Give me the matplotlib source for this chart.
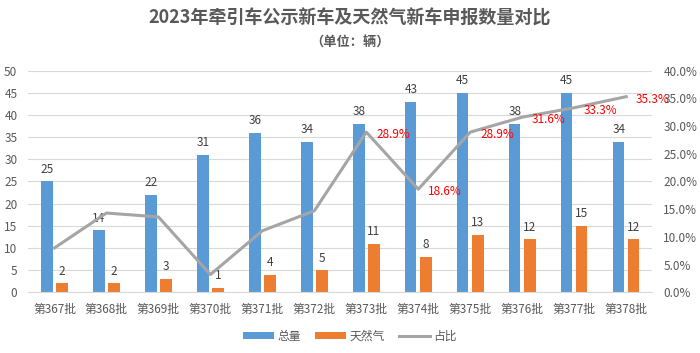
import matplotlib
matplotlib.use("Agg")
import matplotlib.pyplot as plt
import numpy as np

plt.rcParams['font.family'] = ['Noto Sans CJK SC', 'DejaVu Sans']

# 数据
batches = ["第367批", "第368批", "第369批", "第370批", "第371批", "第372批",
           "第373批", "第374批", "第375批", "第376批", "第377批", "第378批"]
total = [25, 14, 22, 31, 36, 34, 38, 43, 45, 38, 45, 34]
gas = [2, 2, 3, 1, 4, 5, 11, 8, 13, 12, 15, 12]
ratio = [8.0, 14.3, 13.6, 3.2, 11.1, 14.7, 28.9, 18.6, 28.9, 31.6, 33.3, 35.3]
ratio_labels = ["", "", "", "", "", "", "28.9%", "18.6%", "28.9%", "31.6%", "33.3%", "35.3%"]

blue = "#5B9BD5"
orange = "#ED7D31"
gray = "#A5A5A5"
txt = "#595959"

fig = plt.figure(figsize=(7, 3.53), dpi=100)
ax = fig.add_axes([0.0407, 0.172, 0.891, 0.628])
ax2 = ax.twinx()

x = np.arange(len(batches))
w = 0.22
off = 0.145
b1 = ax.bar(x - off, total, w, color=blue, zorder=2, label="总量")
b2 = ax.bar(x + off, gas, w, color=orange, zorder=2, label="天然气")

ax.set_ylim(0, 50)
ax.set_yticks(range(0, 51, 5))
ax.set_xlim(-0.5, len(batches) - 0.5)
ax.set_xticks(x)
ax.set_xticklabels(batches)
ax.grid(axis="y", color="#D9D9D9", linewidth=0.8, zorder=0)
ax.set_axisbelow(True)
for s in ["top", "right", "left"]:
    ax.spines[s].set_visible(False)
ax.spines["bottom"].set_color("#D9D9D9")
ax.tick_params(axis="both", length=0, labelsize=8.5, colors=txt)
ax.tick_params(axis="x", pad=8)
ax.tick_params(axis="y", pad=8)

for i in range(len(batches)):
    ax.annotate(str(total[i]), (x[i] - off, total[i]), xytext=(0, 4),
                textcoords="offset points", ha="center", va="bottom",
                fontsize=8.5, color="#404040")
    ax.annotate(str(gas[i]), (x[i] + off, gas[i]), xytext=(0, 4),
                textcoords="offset points", ha="center", va="bottom",
                fontsize=8.5, color="#404040")

ln, = ax2.plot(x, ratio, color=gray, linewidth=2.2, zorder=3, label="占比")
ax2.set_ylim(0, 40)
ax2.set_yticks(range(0, 41, 5))
ax2.set_yticklabels([f"{v:.1f}%" for v in range(0, 41, 5)])
for s in ["top", "right", "left", "bottom"]:
    ax2.spines[s].set_visible(False)
ax2.tick_params(axis="y", length=0, labelsize=8.5, colors=txt, pad=8)

for i, lab in enumerate(ratio_labels):
    if lab:
        ax2.annotate(lab, (x[i], ratio[i]), xytext=(7, -2),
                     textcoords="offset points", ha="left", va="center",
                     fontsize=8.5, color="#FF0000")

fig.text(0.5, 0.948, "2023年牵引车公示新车及天然气新车申报数量对比",
         ha="center", va="center", fontsize=13, fontweight="bold", color=txt)
fig.text(0.5, 0.878, "（单位：辆）", ha="center", va="center",
         fontsize=9.5, fontweight="bold", color=txt)

fig.legend([b1, b2, ln], ["总量", "天然气", "占比"], loc="center",
           bbox_to_anchor=(0.5, 0.048), ncol=3, frameon=False, fontsize=8.5,
           labelcolor=txt, handlelength=2.6, handleheight=0.6,
           handletextpad=0.3, columnspacing=1.2)

fig.savefig("out.png", dpi=100)
